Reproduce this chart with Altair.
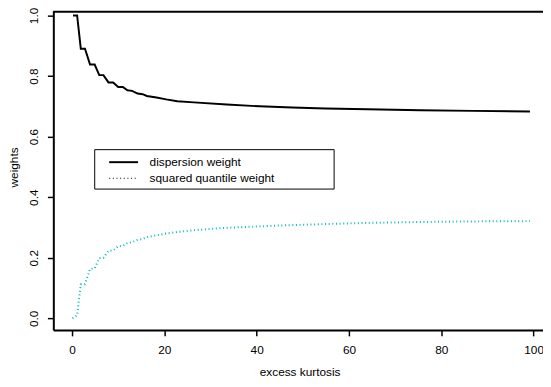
import altair as alt
import pandas as pd

# ---- data ----
disp_x = [0.2, 1.1, 1.9, 2.8, 3.9, 4.9, 5.9, 6.8, 7.9, 8.9, 10.0, 11.0, 12.0, 13.0,
          14.2, 15.3, 16.2, 18.3, 20.4, 22.8, 26.4, 33.5, 40.6, 47.7, 54.9, 64.0,
          75.5, 86.9, 99.2]
disp_y = [1.000, 1.000, 0.890, 0.890, 0.838, 0.838, 0.803, 0.803, 0.779, 0.779,
          0.764, 0.764, 0.753, 0.751, 0.742, 0.740, 0.734, 0.729, 0.723, 0.717,
          0.713, 0.706, 0.700, 0.696, 0.693, 0.690, 0.687, 0.685, 0.683]

quant_x = [0.1, 1.1, 1.9, 2.8, 3.9, 4.9, 5.9, 6.8, 7.9, 8.9, 10.0, 11.0, 12.0, 13.0,
           14.2, 15.3, 16.2, 18.3, 20.4, 22.8, 26.4, 33.5, 44.2, 54.2, 64.0, 75.5,
           86.9, 99.2]
quant_y = [0.000, 0.010, 0.112, 0.113, 0.163, 0.165, 0.199, 0.200, 0.223, 0.224,
           0.238, 0.239, 0.249, 0.251, 0.259, 0.262, 0.268, 0.274, 0.280, 0.285,
           0.291, 0.299, 0.306, 0.311, 0.315, 0.318, 0.320, 0.321]

x_ticks = [0, 20, 40, 60, 80, 100]
y_ticks = [0.0, 0.2, 0.4, 0.6, 0.8, 1.0]
legend_labels = ["dispersion weight", "squared quantile weight"]

# ---- layout / style ----
W, H = 497, 324
XDOM = [-4.056, 102.03]
YDOM = [-0.0384, 1.0156]
FONT = "Liberation Sans"
CYAN = "#00BBBB"

disp = pd.DataFrame({"x": disp_x, "y": disp_y})
quant = pd.DataFrame({"x": quant_x, "y": quant_y})

xs = alt.Scale(domain=XDOM, nice=False, zero=False)
ys = alt.Scale(domain=YDOM, nice=False, zero=False)

x_axis = alt.Axis(values=x_ticks, title="excess kurtosis", grid=False,
                  domainColor="black", domainWidth=2, tickColor="black",
                  tickWidth=1.5, tickSize=6, labelFont=FONT, labelFontSize=12,
                  labelColor="black", labelPadding=9, labelFlush=False,
                  labelOverlap=False, titleFont=FONT, titleFontSize=12,
                  titleFontWeight="normal", titleColor="black", titleX=250,
                  titleY=46, titleBaseline="alphabetic", titleAlign="center")
y_axis = alt.Axis(values=y_ticks, format=".1f", title="weights", grid=False,
                  domainColor="black", domainWidth=2, tickColor="black",
                  tickWidth=1.5, tickSize=6, labelFont=FONT, labelFontSize=12,
                  labelColor="black", labelAngle=270, labelAlign="center",
                  labelBaseline="alphabetic", labelPadding=10.5, labelFlush=False,
                  labelOverlap=False, titleFont=FONT, titleFontSize=12,
                  titleFontWeight="normal", titleColor="black", titleAngle=270,
                  titleX=-36, titleY=158.5, titleBaseline="alphabetic",
                  titleAlign="center")

x_enc = alt.X("x:Q", scale=xs, axis=x_axis)
y_enc = alt.Y("y:Q", scale=ys, axis=y_axis)

line_disp = alt.Chart(disp).mark_line(color="black", strokeWidth=2).encode(
    x=x_enc, y=y_enc)
line_quant = alt.Chart(quant).mark_line(
    color=CYAN, strokeWidth=2, strokeDash=[1, 2.7]).encode(x=x_enc, y=y_enc)

one = alt.Data(values=[{"a": 1}])

top_border = alt.Chart(one).mark_rule(color="black", strokeWidth=2).encode(
    x=alt.value(0), x2=alt.value(W), y=alt.value(1))

leg_box = alt.Chart(one).mark_rect(fill="white", stroke="black", strokeWidth=1).encode(
    x=alt.value(42), x2=alt.value(285), y=alt.value(141), y2=alt.value(181))
leg_line1 = alt.Chart(one).mark_rule(color="black", strokeWidth=2).encode(
    x=alt.value(56.7), x2=alt.value(86), y=alt.value(153.7))
leg_line2 = alt.Chart(one).mark_rule(color="black", strokeWidth=1.2,
                                     strokeDash=[1, 2.7]).encode(
    x=alt.value(56.7), x2=alt.value(86), y=alt.value(170))
leg_text1 = alt.Chart(one).mark_text(font=FONT, fontSize=12, color="black",
                                     align="left", baseline="middle").encode(
    x=alt.value(97.7), y=alt.value(153.7), text=alt.value(legend_labels[0]))
leg_text2 = alt.Chart(one).mark_text(font=FONT, fontSize=12, color="black",
                                     align="left", baseline="middle").encode(
    x=alt.value(97.7), y=alt.value(170), text=alt.value(legend_labels[1]))

chart = alt.layer(
    line_disp, line_quant, top_border,
    leg_box, leg_line1, leg_line2, leg_text1, leg_text2
).properties(
    width=W, height=H,
    padding={"left": 46, "top": 0, "right": 0, "bottom": 47},
    autosize=alt.AutoSizeParams(type="none"),
    background="white",
).configure_view(stroke=None)

chart.save("out.html", embed_options={"renderer": "svg", "actions": False})
